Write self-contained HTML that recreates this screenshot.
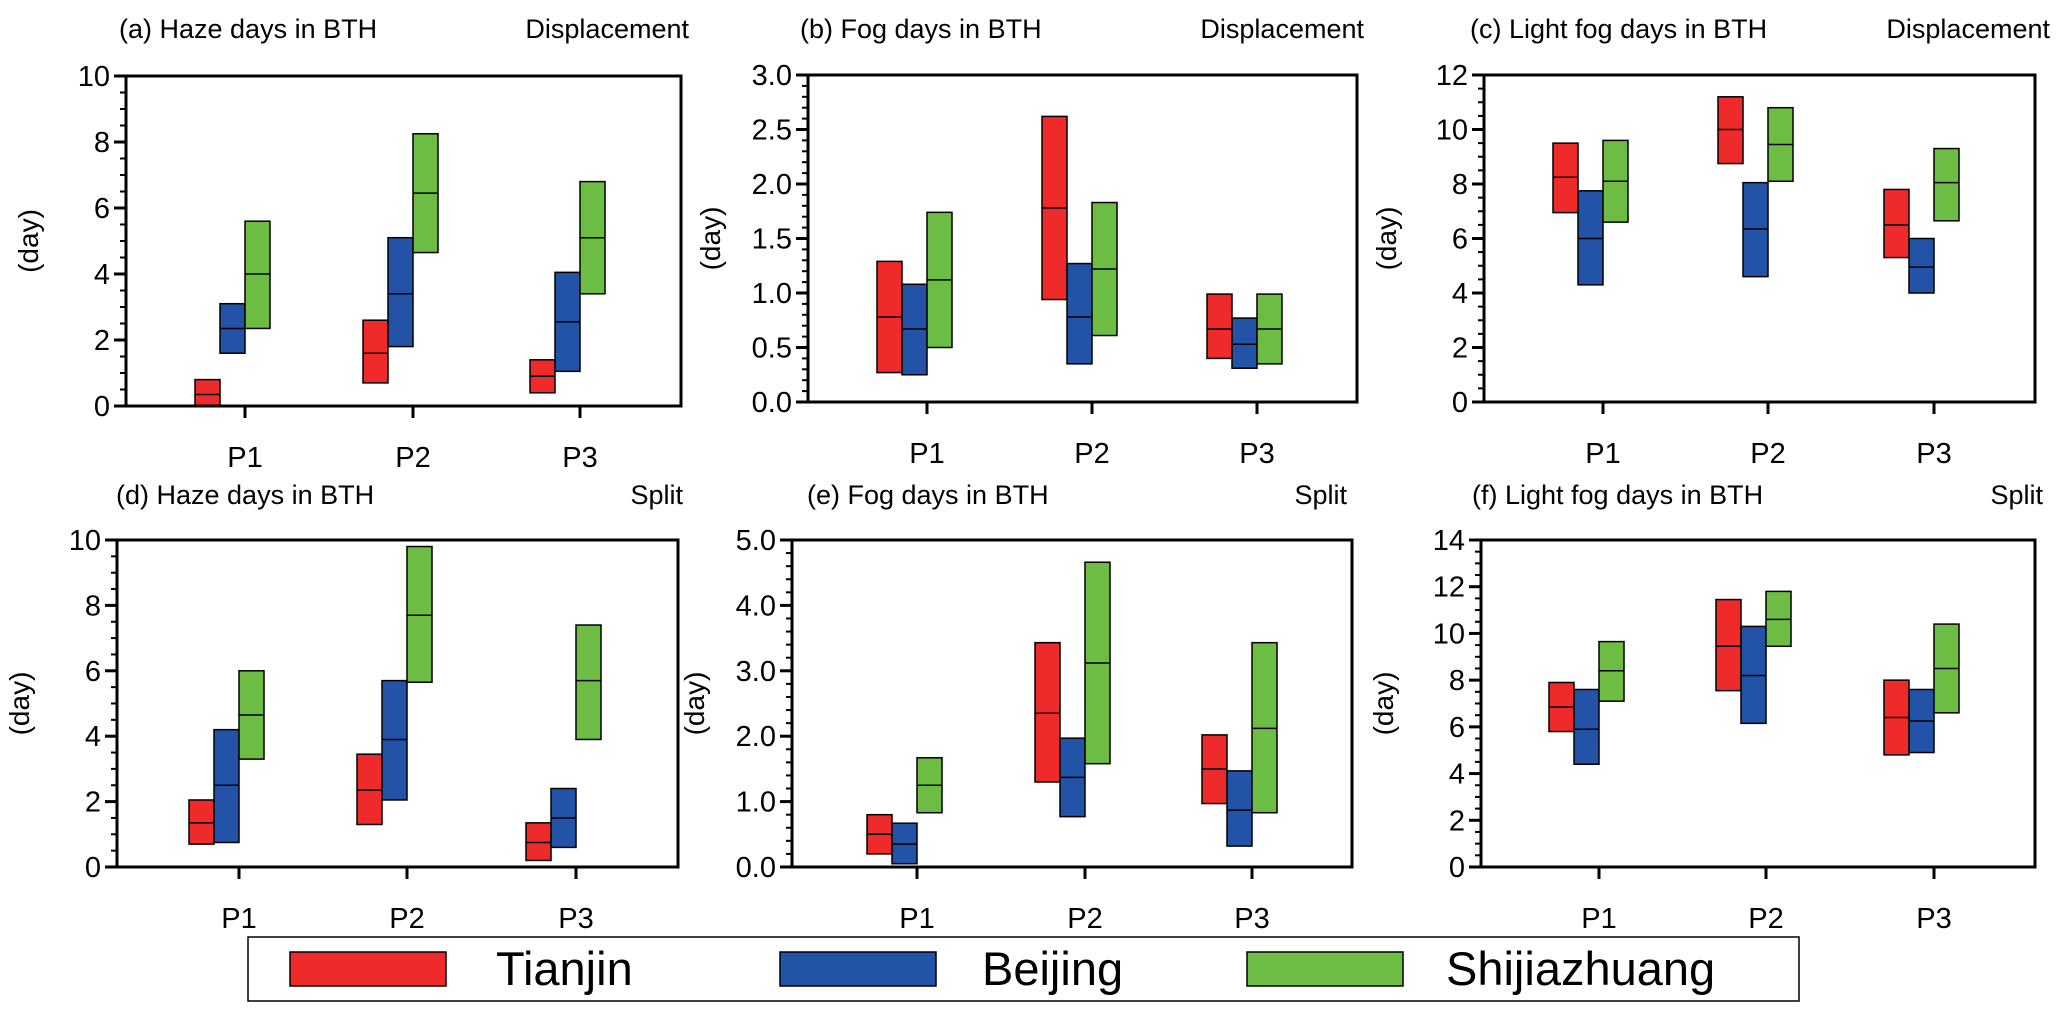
<!DOCTYPE html>
<html><head><meta charset="utf-8">
<style>
html,body{margin:0;padding:0;background:#fff;}
svg{display:block;font-family:"Liberation Sans",Arial,sans-serif;}
</style></head>
<body>
<svg id="chart" width="2067" height="1021" viewBox="0 0 2067 1021"></svg>
<script>
const categories = ["P1","P2","P3"];
const cities = ["Tianjin","Beijing","Shijiazhuang"];
const cityColors = ["#ee2a2a","#2353a6","#6dbd45"];
// each: [min, median, max] per city per period
const hazeDisp = [
  [[0,0.35,0.8],[1.6,2.35,3.1],[2.35,4.0,5.6]],
  [[0.7,1.6,2.6],[1.8,3.4,5.1],[4.65,6.45,8.25]],
  [[0.4,0.9,1.4],[1.05,2.55,4.05],[3.4,5.1,6.8]]
];
const fogDisp = [
  [[0.27,0.78,1.29],[0.25,0.67,1.08],[0.5,1.12,1.74]],
  [[0.94,1.78,2.62],[0.35,0.78,1.27],[0.61,1.22,1.83]],
  [[0.4,0.67,0.99],[0.31,0.53,0.77],[0.35,0.67,0.99]]
];
const lightDisp = [
  [[6.95,8.25,9.5],[4.3,6.0,7.75],[6.6,8.1,9.6]],
  [[8.75,10.0,11.2],[4.6,6.35,8.05],[8.1,9.45,10.8]],
  [[5.3,6.5,7.8],[4.0,4.95,6.0],[6.65,8.05,9.3]]
];
const hazeSplit = [
  [[0.7,1.35,2.05],[0.75,2.5,4.2],[3.3,4.65,6.0]],
  [[1.3,2.35,3.45],[2.05,3.9,5.7],[5.65,7.7,9.8]],
  [[0.2,0.75,1.35],[0.6,1.5,2.4],[3.9,5.7,7.4]]
];
const fogSplit = [
  [[0.2,0.5,0.8],[0.05,0.35,0.67],[0.83,1.25,1.67]],
  [[1.3,2.35,3.43],[0.77,1.37,1.97],[1.58,3.12,4.66]],
  [[0.97,1.5,2.02],[0.32,0.87,1.47],[0.83,2.12,3.43]]
];
const lightSplit = [
  [[5.8,6.85,7.9],[4.4,5.9,7.6],[7.1,8.4,9.65]],
  [[7.55,9.45,11.45],[6.15,8.2,10.3],[9.45,10.6,11.8]],
  [[4.8,6.4,8.0],[4.9,6.25,7.6],[6.6,8.5,10.4]]
];
const ticksA = ["0","2","4","6","8","10"];
const ticksB = ["0.0","0.5","1.0","1.5","2.0","2.5","3.0"];
const ticksC = ["0","2","4","6","8","10","12"];
const ticksE = ["0.0","1.0","2.0","3.0","4.0","5.0"];
const ticksF = ["0","2","4","6","8","10","12","14"];

const NS="http://www.w3.org/2000/svg";
const svg=document.getElementById('chart');
function mk(tag,attrs,parent){const e=document.createElementNS(NS,tag);for(const k in attrs)e.setAttribute(k,attrs[k]);(parent||svg).appendChild(e);return e;}

const panels=[
 {id:"a",title:"(a) Haze days in BTH",right:"Displacement",data:hazeDisp,ticks:ticksA,max:10,minor:0.5,L:126,R:681,T:76,B:406,P:[245,413,580],tx:119,rx:689,ty:38},
 {id:"b",title:"(b) Fog days in BTH",right:"Displacement",data:fogDisp,ticks:ticksB,max:3,minor:0.1,L:808,R:1357,T:75,B:402,P:[927,1092,1257],tx:800,rx:1364,ty:38},
 {id:"c",title:"(c) Light fog days in BTH",right:"Displacement",data:lightDisp,ticks:ticksC,max:12,minor:0.5,L:1484,R:2035,T:75,B:402,P:[1603,1768,1934],tx:1470,rx:2050,ty:38},
 {id:"d",title:"(d) Haze days in BTH",right:"Split",data:hazeSplit,ticks:ticksA,max:10,minor:0.5,L:117,R:678,T:540,B:867,P:[239,407,576],tx:116,rx:683,ty:504},
 {id:"e",title:"(e) Fog days in BTH",right:"Split",data:fogSplit,ticks:ticksE,max:5,minor:0.2,L:792,R:1352,T:540,B:867,P:[917,1085,1252],tx:807,rx:1347,ty:504},
 {id:"f",title:"(f) Light fog days in BTH",right:"Split",data:lightSplit,ticks:ticksF,max:14,minor:0.5,L:1481,R:2035,T:540,B:867,P:[1599,1766,1934],tx:1472,rx:2043,ty:504}
];

panels.forEach(p=>{
  const g=mk('g',{});
  
  
  const y=v=>p.B-(v/p.max)*(p.B-p.T);
  const t1=mk('text',{x:p.tx,y:p.ty,'font-size':27,fill:'#000'},g);t1.textContent=p.title;
  
  
  const t2=mk('text',{x:p.rx,y:p.ty,'font-size':27,fill:'#000','text-anchor':'end'},g);t2.textContent=p.right;
  
  
  for(let v=0;v<=p.max+1e-9;v+=p.minor){
    const yy=y(v);
    mk('line',{x1:p.L-6,x2:p.L,y1:yy,y2:yy,stroke:'#000','stroke-width':2},g);
  }
  p.ticks.forEach(lab=>{
    const v=parseFloat(lab);const yy=y(v);
    mk('line',{x1:p.L-12,x2:p.L,y1:yy,y2:yy,stroke:'#000','stroke-width':3},g);
    const t=mk('text',{x:p.L-16,y:yy+10,'font-size':29,'text-anchor':'end',fill:'#000'},g);t.textContent=lab;
    
    
  });
  const yl=mk('text',{x:0,y:0,'font-size':28,'text-anchor':'middle',fill:'#000',transform:`translate(${p.L-88},${(p.T+p.B)/2}) rotate(-90)`},g);
  yl.textContent='(day)';
  
  
  p.data.forEach((per,pi)=>{
    const px=p.P[pi];
    per.forEach((b,ci)=>{
      const x0=px-50+ci*25;
      const r=mk('rect',{x:x0,y:y(b[2]),width:25,height:y(b[0])-y(b[2]),fill:cityColors[ci],stroke:'#000','stroke-width':1.5},g);
      
      
      mk('line',{x1:x0,x2:x0+25,y1:y(b[1]),y2:y(b[1]),stroke:'#000','stroke-width':1.5},g);
    });
    mk('line',{x1:px,x2:px,y1:p.B,y2:p.B+12,stroke:'#000','stroke-width':3},g);
    const t=mk('text',{x:px,y:p.B+61,'font-size':29,'text-anchor':'middle',fill:'#000'},g);t.textContent=categories[pi];
    
    
  });
  const box=mk('rect',{x:p.L,y:p.T,width:p.R-p.L,height:p.B-p.T,fill:'none',stroke:'#000','stroke-width':3},g);
  
  
});

const lg=mk('g',{});


mk('rect',{x:248,y:937,width:1551,height:64,fill:'#fff',stroke:'#000','stroke-width':1.5},lg);
const swX=[290,780,1247],txX=[496,982,1446];
cities.forEach((c,i)=>{
  const s=mk('rect',{x:swX[i],y:952,width:156,height:34,fill:cityColors[i],stroke:'#000','stroke-width':1.5},lg);
  
  
  const t=mk('text',{x:txX[i],y:985,'font-size':47,fill:'#000'},lg);t.textContent=c;
  
  
});
</script>
</body></html>
